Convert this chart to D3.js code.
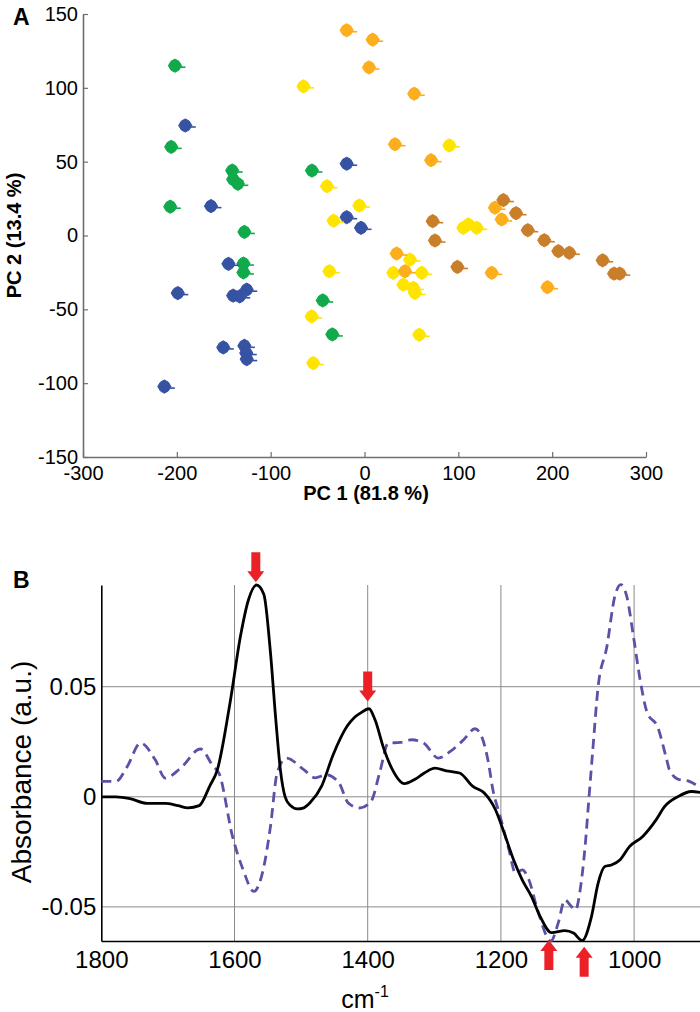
<!DOCTYPE html>
<html>
<head>
<meta charset="utf-8">
<script src="https://cdn.jsdelivr.net/npm/d3@7"></script>
<style>
  body { margin: 0; background: #fff; }
  svg { display: block; font-family: "Liberation Sans", Arial, sans-serif; }
</style>
</head>
<body>
<div class="js-canvas"></div>
<script>
'use strict';

// ---- panel A: PCA scores (PC1, PC2) per group ----
const greenPts = [[-202, 115], [-206, 60], [-141, 44], [-140, 38], [-135, 35], [-207, 19.5],
    [-128, 2.4], [-129, -19], [-129, -25], [-56, 44], [-44.5, -44], [-34.3, -67]];
const bluePts = [[-191, 74.5], [-163.6, 19.9], [-19, 48.6], [-19, 12.4], [-3.7, 5.2], [-145, -19.2],
    [-199, -39], [-140, -40.7], [-133, -41.2], [-125.5, -36.7], [-150.5, -75.8], [-128, -74.7],
    [-126, -79.6], [-125.5, -83.7], [-213.3, -102.3]];
const yellowPts = [[-65, 101], [-40, 33.4], [-33, 10], [-5.5, 20.3], [90.4, 61], [110.8, 7.5],
    [119.6, 5.2], [105.3, 5.2], [48.5, -16.3], [30.7, -25.3], [61, -25.3], [41.4, -33.3],
    [52, -35.5], [53.8, -38.9], [58.4, -67.2], [-37.5, -24.2], [-56.3, -54.8], [-54.6, -86.4]];
const orangePts = [[-19, 139], [8.7, 132.6], [4.8, 113.8], [53, 96], [32.5, 61.8], [71, 51],
    [139, 18.8], [146.2, 10.9], [34.3, -12.2], [43.2, -24.2], [135.6, -25.3], [195, -35]];
const brownPts = [[72.7, 9.7], [75.1, -3.4], [148, 24], [161.5, 15.1], [174, 3.6], [191.6, -3.2],
    [206.6, -10.6], [218.3, -11.7], [253.8, -16.8], [266, -25.8], [272, -25.8], [99, -21.3]];

const pcTicksX = [-300, -200, -100, 0, 100, 200, 300];
const pcTicksY = [-150, -100, -50, 0, 50, 100, 150];

// ---- panel B: difference spectra [wavenumber, absorbance] ----
const solidSpectrum = [[1800, 0], [1778, 0], [1757, -0.0008], [1731, -0.003], [1704, -0.003],
    [1685, -0.004], [1670, -0.005], [1653, -0.004], [1637, 0.005], [1626, 0.012], [1606, 0.044],
    [1591, 0.073], [1579, 0.0895], [1567, 0.0962], [1556, 0.092], [1546, 0.0655], [1538, 0.035],
    [1531, 0.012], [1524, 0.0], [1516, -0.004], [1506, -0.0055], [1496, -0.005], [1486, -0.0025],
    [1469, 0.005], [1452, 0.019], [1431, 0.032], [1420, 0.036], [1411, 0.038], [1398, 0.040],
    [1389, 0.035], [1376, 0.022], [1364, 0.013], [1345, 0.006], [1329, 0.008], [1315, 0.0108],
    [1299, 0.013], [1282, 0.0118], [1262, 0.0108], [1242, 0.0047], [1225, 0.0017], [1208, -0.006],
    [1195, -0.0165], [1181, -0.0286], [1168, -0.0377], [1154, -0.0453], [1141, -0.0544],
    [1124, -0.0617], [1104, -0.0608], [1091, -0.0619], [1078, -0.0653], [1064, -0.0544],
    [1054, -0.0392], [1044, -0.0317], [1034, -0.031], [1021, -0.0286], [1007, -0.0226], [987, -0.018],
    [967, -0.0105], [954, -0.0044], [934, 0.0001], [914, 0.0024], [900, 0.002]];
const dashedSpectrum = [[1800, 0.007], [1778, 0.007], [1761, 0.0138], [1741, 0.0244], [1719, 0.0168],
    [1704, 0.0085], [1681, 0.013], [1651, 0.0217], [1632, 0.0138], [1623, 0.0105], [1603, -0.018],
    [1587, -0.0332], [1571, -0.043], [1557, -0.0332], [1546, -0.0135], [1536, 0.0108], [1522, 0.0176],
    [1496, 0.0123], [1479, 0.0086], [1462, 0.010], [1443, 0.0062], [1429, -0.0029], [1412, -0.0051],
    [1395, -0.0021], [1382, 0.011], [1369, 0.0244], [1351, 0.0247], [1334, 0.0259], [1316, 0.0244],
    [1294, 0.0176], [1276, 0.0206], [1256, 0.0259], [1239, 0.0309], [1229, 0.0274], [1219, 0.016],
    [1212, 0.0032], [1201, -0.009], [1188, -0.024], [1178, -0.0347], [1168, -0.0332], [1158, -0.0377],
    [1145, -0.0514], [1125, -0.0655], [1114, -0.0574], [1104, -0.0468], [1094, -0.0499],
    [1088, -0.0514], [1081, -0.0423], [1074, -0.024], [1068, -0.0014], [1062, 0.0214], [1054, 0.050],
    [1041, 0.068], [1029, 0.091], [1020, 0.0964], [1011, 0.091], [1001, 0.0729], [991, 0.0532],
    [981, 0.0388], [964, 0.0312], [951, 0.0168], [947, 0.0123], [934, 0.008], [917, 0.007], [900, 0.004]];

const wnTicks = [1800, 1600, 1400, 1200, 1000];
const absTicks = [-0.05, 0, 0.05];
// arrows: wavenumber, absorbance at the arrow tip, direction
const arrowMarks = [[1568, 0.0974, 'down'], [1400, 0.0433, 'down'], [1128, -0.0650, 'up'], [1075, -0.0681, 'up']];

const groups = [
    { pts: greenPts, color: '#10aa4b' },
    { pts: bluePts, color: '#3652a3' },
    { pts: yellowPts, color: '#ffe400' },
    { pts: orangePts, color: '#fcae1c' },
    { pts: brownPts, color: '#c97f2a' }
];

const svg = d3.select('.js-canvas')
    .append('svg')
    .attr('width', 700)
    .attr('height', 1012);

// ================= panel A =================
const xA = d3.scaleLinear().domain([-300, 300]).range([83, 646]);
const yA = d3.scaleLinear().domain([-150, 150]).range([457, 14]);

const axisGrey = '#6e6e6e';

const xAxisA = svg.append('g')
    .attr('transform', `translate(0, ${yA(-150)})`)
    .call(d3.axisBottom(xA).tickValues(pcTicksX).tickSizeInner(-5).tickSizeOuter(0)
        .tickPadding(9).tickFormat(d => String(d)));
const yAxisA = svg.append('g')
    .attr('transform', `translate(${xA(-300)}, 0)`)
    .call(d3.axisLeft(yA).tickValues(pcTicksY).tickSizeInner(-5).tickSizeOuter(0)
        .tickPadding(5).tickFormat(d => String(d)));

[xAxisA, yAxisA].forEach(g => {
    g.select('.domain').attr('stroke', axisGrey).attr('stroke-width', 1.6);
    g.selectAll('.tick line').attr('stroke', axisGrey).attr('stroke-width', 1.2);
    g.selectAll('.tick text').attr('fill', '#000').style('font-size', '20px');
});

// marker: roundish blob with a short spur to the right
const marker = 'M0,-6.6 L4,-4.4 L6.6,0 L4,4.4 L0,6.6 L-4,4.4 L-6.6,0 L-4,-4.4 Z';
groups.forEach(grp => {
    const gg = svg.append('g');
    const m = gg.selectAll('g.pt')
        .data(grp.pts)
        .enter()
        .append('g')
        .attr('transform', d => `translate(${xA(d[0])}, ${yA(d[1])})`);
    m.append('path')
        .attr('d', marker)
        .attr('fill', grp.color)
        .attr('stroke', grp.color)
        .attr('stroke-width', 1)
        .attr('stroke-linejoin', 'round');
    m.append('line')
        .attr('x1', 5).attr('x2', 10.5)
        .attr('y1', 1.5).attr('y2', 1.5)
        .attr('stroke', grp.color)
        .attr('stroke-width', 1.6);
});

svg.append('text')
    .attr('x', 366).attr('y', 500)
    .attr('text-anchor', 'middle')
    .style('font-size', '20px').style('font-weight', 'bold')
    .text('PC 1 (81.8 %)');
svg.append('text')
    .attr('transform', `translate(21, ${yA(0)}) rotate(-90)`)
    .attr('text-anchor', 'middle')
    .style('font-size', '20px').style('font-weight', 'bold')
    .text('PC 2 (13.4 %)');
svg.append('text')
    .attr('x', 13).attr('y', 25)
    .style('font-size', '23px').style('font-weight', 'bold')
    .text('A');

// ================= panel B =================
const xB = d3.scaleLinear().domain([1800, 900]).range([101.3, 700.7]);
const yB = d3.scaleLinear().domain([-0.0655, 0.0962]).range([941, 585]);

const gridB = svg.append('g');
gridB.selectAll('line.v')
    .data(wnTicks.filter(d => d !== 1800))
    .enter().append('line')
    .attr('x1', d => xB(d)).attr('x2', d => xB(d))
    .attr('y1', yB.range()[1]).attr('y2', yB.range()[0])
    .attr('stroke', '#8a8a8a').attr('stroke-width', 1);
gridB.selectAll('line.h')
    .data(absTicks)
    .enter().append('line')
    .attr('x1', xB(1800)).attr('x2', xB(900))
    .attr('y1', d => yB(d)).attr('y2', d => yB(d))
    .attr('stroke', '#8a8a8a').attr('stroke-width', 1);

const xAxisB = svg.append('g')
    .attr('transform', `translate(0, ${yB.range()[0]})`)
    .call(d3.axisBottom(xB).tickValues(wnTicks).tickSize(0).tickPadding(10).tickFormat(d => String(d)));
const yAxisB = svg.append('g')
    .attr('transform', `translate(${xB(1800)}, 0)`)
    .call(d3.axisLeft(yB).tickValues(absTicks).tickSize(0).tickPadding(5).tickFormat(d => String(d)));
[xAxisB, yAxisB].forEach(g => {
    g.select('.domain').attr('stroke', '#000').attr('stroke-width', 1.6);
    g.selectAll('.tick text').attr('fill', '#000').style('font-size', '24px');
});

const lineB = d3.line()
    .x(d => xB(d[0]))
    .y(d => yB(d[1]))
    .curve(d3.curveMonotoneX);

svg.append('path')
    .datum(dashedSpectrum)
    .attr('d', lineB)
    .attr('fill', 'none')
    .attr('stroke', '#5a52a6')
    .attr('stroke-width', 2.8)
    .attr('stroke-dasharray', '10,6');
svg.append('path')
    .datum(solidSpectrum)
    .attr('d', lineB)
    .attr('fill', 'none')
    .attr('stroke', '#000')
    .attr('stroke-width', 2.8);

// red arrows (tip at data point)
const arrowPath = 'M-4.5,-30 L4.5,-30 L4.5,-11 L8.5,-11 L0,0 L-8.5,-11 L-4.5,-11 Z';
svg.append('g').selectAll('path')
    .data(arrowMarks)
    .enter().append('path')
    .attr('d', arrowPath)
    .attr('fill', '#ec2027')
    .attr('transform', d => `translate(${xB(d[0])}, ${yB(d[1])})` + (d[2] === 'up' ? ' rotate(180)' : ''));

svg.append('text')
    .attr('transform', `translate(31, 772) rotate(-90)`)
    .attr('text-anchor', 'middle')
    .style('font-size', '28px')
    .text('Absorbance (a.u.)');

const cm = svg.append('text')
    .attr('x', 365).attr('y', 1008)
    .attr('text-anchor', 'middle')
    .style('font-size', '25px');
cm.append('tspan').text('cm');
cm.append('tspan').attr('dy', -11).style('font-size', '16px').text('-1');

svg.append('text')
    .attr('x', 13).attr('y', 588)
    .style('font-size', '23px').style('font-weight', 'bold')
    .text('B');
</script>
</body>
</html>
